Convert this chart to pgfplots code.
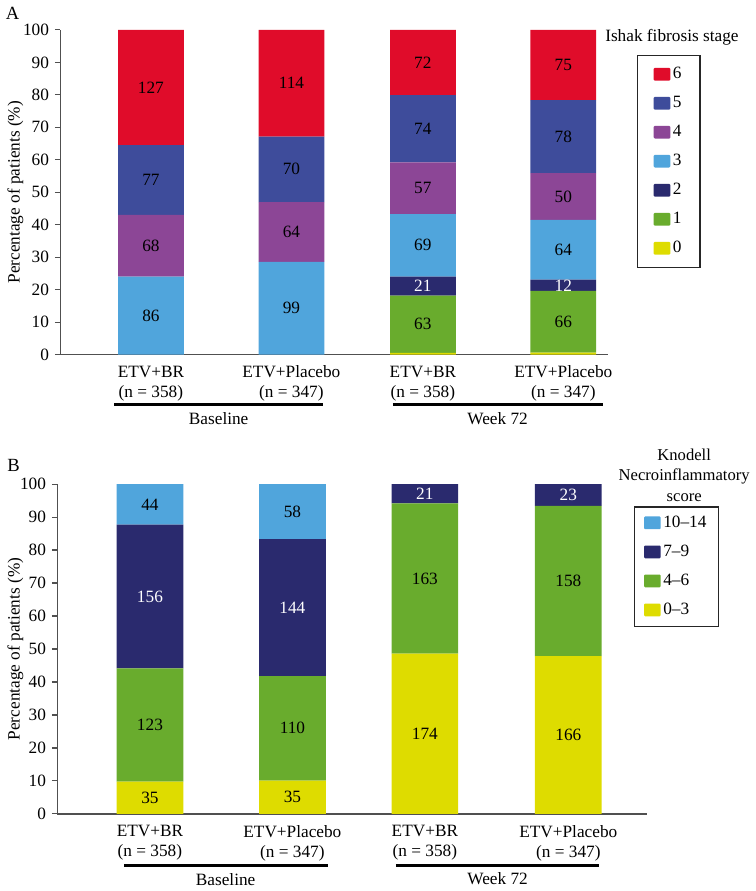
\documentclass[border=0pt]{standalone}
\usepackage{fontspec}
\setmainfont{Liberation Serif}
\usepackage{pgfplots}
\pgfplotsset{compat=1.18}
\definecolor{cSix}{HTML}{E00C2A}
\definecolor{cFive}{HTML}{3E4C9B}
\definecolor{cFour}{HTML}{8C4696}
\definecolor{cThree}{HTML}{50A5DC}
\definecolor{cTwo}{HTML}{2A2A6E}
\definecolor{cOne}{HTML}{69AC2D}
\definecolor{cZero}{HTML}{DEDC00}
\definecolor{axisgray}{HTML}{505050}
\pgfplotsset{
  base/.style={
    scale only axis, anchor=south west, clip=false,
    enlargelimits=false, ymin=0, ymax=100,
    /pgf/number format/assume math mode=true,
  },
  bars/.style={
    base, ybar stacked,
    every axis plot post/.append style={legend image code/.code={\draw[##1,draw=none,rounded corners=0.8pt] (0pt,-4.6pt) rectangle (12.5pt,5pt);}},
    axis lines=left, axis line style={-, draw=axisgray, line width=1.1pt},
    ytick={0,10,...,100}, ytick pos=left, tick align=outside,
    major tick length=4pt, tick style={draw=axisgray, line width=0.9pt},
    major x tick style={draw=none},
    xticklabel style={align=center, font=\fontsize{13}{15}\selectfont, text=black},
    yticklabel style={text=black},
    ylabel={Percentage of patients (\%)},
    reverse legend, legend cell align=left,
  },
  labs/.style={base, hide axis},
  blab/.style={draw=none, mark=none, nodes near coords, point meta=explicit symbolic,
    every node near coord/.append style={anchor=center, text=black, font=\fontsize{13}{15}\selectfont}},
  wlab/.style={blab, every node near coord/.append style={text=white}},
}
\begin{document}
\fontsize{13}{15}\selectfont
\begin{tikzpicture}
\path (0pt,0pt) rectangle (563.25pt,-668.25pt);
% ---------------- Panel A ----------------
\begin{axis}[bars, at={(42.75pt,-267pt)}, width=412.5pt, height=244.5pt,
  xmin=0, xmax=550, bar width=66,
  ylabel style={at={(axis description cs:-0.0818,0.5)}, anchor=center, font=\fontsize{13}{15}\selectfont},
  xtick={91,232,364,505},
  xticklabels={{ETV+BR\\(n = 358)},{ETV+Placebo\\(n = 347)},{ETV+BR\\(n = 358)},{ETV+Placebo\\(n = 347)}},
  legend style={at={(1.0527,0.9233)}, anchor=north west, draw=black!85, line width=1.1pt,
    inner xsep=12pt, inner ysep=7pt, row sep=7.3pt, font=\fontsize{13}{15}\selectfont},
]
\addplot[fill=cZero, draw=none] coordinates {(91,0) (232,0) (364,0.56) (505,0.58)};
\addlegendentry{0}
\addplot[fill=cOne, draw=none] coordinates {(91,0) (232,0) (364,17.60) (505,19.02)};
\addlegendentry{1}
\addplot[fill=cTwo, draw=none] coordinates {(91,0) (232,0) (364,5.87) (505,3.46)};
\addlegendentry{2}
\addplot[fill=cThree, draw=none] coordinates {(91,24.02) (232,28.53) (364,19.27) (505,18.44)};
\addlegendentry{3}
\addplot[fill=cFour, draw=none] coordinates {(91,18.99) (232,18.44) (364,15.92) (505,14.41)};
\addlegendentry{4}
\addplot[fill=cFive, draw=none] coordinates {(91,21.51) (232,20.17) (364,20.67) (505,22.48)};
\addlegendentry{5}
\addplot[fill=cSix, draw=none] coordinates {(91,35.47) (232,32.85) (364,20.11) (505,21.61)};
\addlegendentry{6}
\draw[line width=2.2pt] (axis cs:54,-15.3) -- (axis cs:264,-15.3);
\draw[line width=2.2pt] (axis cs:334,-15.3) -- (axis cs:545,-15.3);
\node at (axis cs:159,-19.8) {Baseline};
\node at (axis cs:439,-19.8) {Week 72};
\end{axis}
\begin{axis}[labs, at={(42.75pt,-267pt)}, width=412.5pt, height=244.5pt, xmin=0, xmax=550]
\addplot[blab] table[meta=l, row sep=\\] {
x y l\\
91 12.01 86\\ 91 33.52 68\\ 91 53.77 77\\ 91 82.26 127\\
232 14.27 99\\ 232 37.75 64\\ 232 57.06 70\\ 232 83.57 114\\
364 9.36 63\\ 364 33.66 69\\ 364 51.26 57\\ 364 69.56 74\\ 364 89.95 72\\
505 10.09 66\\ 505 32.28 64\\ 505 48.70 50\\ 505 67.15 78\\ 505 89.19 75\\
};
\addplot[wlab] table[meta=l, row sep=\\] {
x y l\\
364 21.09 21\\
505 21.33 12\\
};
\end{axis}
\node[font=\fontsize{14}{16}\selectfont] at (6.75pt,-9.75pt) {A};
\node at (503.25pt,-27.75pt) {Ishak fibrosis stage};
% ---------------- Panel B ----------------
\begin{axis}[bars, at={(40.5pt,-612.75pt)}, width=444pt, height=248.25pt,
  xmin=0, xmax=592, bar width=67,
  ylabel style={at={(axis description cs:-0.071,0.5)}, anchor=center, font=\fontsize{13}{15}\selectfont},
  xtick={93,236,369,513},
  xticklabels={{ETV+BR\\(n = 358)},{ETV+Placebo\\(n = 347)},{ETV+BR\\(n = 358)},{ETV+Placebo\\(n = 347)}},
  legend style={at={(0.978,0.9335)}, anchor=north west, draw=black!85, line width=1.1pt,
    inner xsep=7pt, inner ysep=5pt, row sep=7.3pt, font=\fontsize{13}{15}\selectfont},
]
\addplot[fill=cZero, draw=none] coordinates {(93,9.78) (236,10.09) (369,48.60) (513,47.84)};
\addlegendentry{0--3}
\addplot[fill=cOne, draw=none] coordinates {(93,34.36) (236,31.70) (369,45.53) (513,45.53)};
\addlegendentry{4--6}
\addplot[fill=cTwo, draw=none] coordinates {(93,43.58) (236,41.50) (369,5.87) (513,6.63)};
\addlegendentry{7--9}
\addplot[fill=cThree, draw=none] coordinates {(93,12.29) (236,16.71) (369,0) (513,0)};
\addlegendentry{10--14}
\draw[line width=2.2pt] (axis cs:67,-15.7) -- (axis cs:272,-15.7);
\draw[line width=2.2pt] (axis cs:340,-15.7) -- (axis cs:544,-15.7);
\node at (axis cs:169,-19.8) {Baseline};
\node at (axis cs:442,-19.8) {Week 72};
\end{axis}
\begin{axis}[labs, at={(40.5pt,-612.75pt)}, width=444pt, height=248.25pt, xmin=0, xmax=592]
\addplot[blab] table[meta=l, row sep=\\] {
x y l\\
93 4.89 35\\ 93 26.96 123\\ 93 93.85 44\\
236 5.04 35\\ 236 25.94 110\\ 236 91.64 58\\
369 24.30 174\\ 369 71.37 163\\
513 23.92 166\\ 513 70.61 158\\
};
\addplot[wlab] table[meta=l, row sep=\\] {
x y l\\
93 65.92 156\\ 236 62.54 144\\ 369 97.07 21\\ 513 96.69 23\\
};
\end{axis}
\node[font=\fontsize{14}{16}\selectfont] at (7.5pt,-350.25pt) {B};
\node[align=center, font=\fontsize{12.5}{15.4}\selectfont] at (512.5pt,-357.75pt) {Knodell\\Necroinflammatory\\score};
\end{tikzpicture}
\end{document}
